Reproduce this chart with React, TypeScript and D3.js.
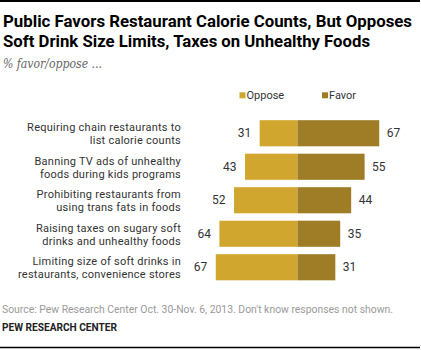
import React from 'react';
import * as d3 from 'd3';

const categories = [
  ['Requiring chain restaurants to', 'list calorie counts'],
  ['Banning TV ads of unhealthy', 'foods during kids programs'],
  ['Prohibiting restaurants from', 'using trans fats in foods'],
  ['Raising taxes on sugary soft', 'drinks and  unhealthy foods'],
  ['Limiting size of soft drinks in', 'restaurants, convenience stores'],
];
const oppose = [31, 43, 52, 64, 67];
const favor = [67, 55, 44, 35, 31];
const legendLabels = ['Oppose', 'Favor'];

const W = 421;
const H = 350;
const OPPOSE_COLOR = '#D1A62F';
const FAVOR_COLOR = '#9E7D26';
const FONT = 'Roboto, "Liberation Sans", Arial, sans-serif';

const App = () => {
  const zeroX = 297.5;
  const x = d3.scaleLinear().domain([0, 100]).range([0, 122]);
  const y = d3.scaleBand<number>()
    .domain(d3.range(categories.length))
    .range([116.5, 284])
    .paddingInner(0.22)
    .paddingOuter(0.11);

  return (
    <svg width={W} height={H} style={{ position: 'absolute', left: 0, top: 0 }}
      fontFamily={FONT}>
      <rect x={0} y={0} width={W} height={H} fill="#fff" />
      <line x1={0} x2={420} y1={1} y2={1} stroke="#000" strokeWidth={2} />

      <text x={3} y={27} fontSize={17} fontWeight="bold" fill="#000" textLength={409} lengthAdjust="spacingAndGlyphs">
        Public Favors Restaurant Calorie Counts, But Opposes
      </text>
      <text x={3} y={47} fontSize={17} fontWeight="bold" fill="#000" textLength={367} lengthAdjust="spacingAndGlyphs">
        Soft Drink Size Limits, Taxes on Unhealthy Foods
      </text>
      <text x={3} y={68} fontSize={12} fontStyle="italic" fill="#666" fontFamily='"DejaVu Serif", Georgia, serif'
        textLength={99} lengthAdjust="spacingAndGlyphs">
        % favor/oppose ...
      </text>

      {legendLabels.map((lab, i) => {
        const lx = i === 0 ? 239.5 : 322;
        return (
          <g key={lab}>
            <rect x={lx} y={92.3} width={6} height={6} fill={i === 0 ? OPPOSE_COLOR : FAVOR_COLOR} />
            <text x={lx + 7} y={98.5} fontSize={11} fill="#333">{lab}</text>
          </g>
        );
      })}

      {categories.map((cat, i) => {
        const top = y(i) as number;
        const bh = y.bandwidth();
        const cy = top + bh / 2;
        return (
          <g key={i}>
            <rect x={zeroX - x(oppose[i])} y={top} width={x(oppose[i])} height={bh} fill={OPPOSE_COLOR} />
            <rect x={zeroX} y={top} width={x(favor[i])} height={bh} fill={FAVOR_COLOR} />
            <text x={181} y={cy - 1.8} fontSize={11} letterSpacing={0.25} textAnchor="end" fill="#333">{cat[0]}</text>
            <text x={181} y={cy + 11} fontSize={11} letterSpacing={0.25} textAnchor="end" fill="#333">{cat[1]}</text>
            <text x={zeroX - x(oppose[i]) - 8.5} y={cy + 4} fontSize={12} textAnchor="end" fill="#333">{oppose[i]}</text>
            <text x={zeroX + x(favor[i]) + 7.5} y={cy + 4} fontSize={12} textAnchor="start" fill="#333">{favor[i]}</text>
          </g>
        );
      })}

      <text x={2} y={313} fontSize={11} fill="#9a9a9a" textLength={391} lengthAdjust="spacingAndGlyphs">
        Source: Pew Research Center Oct. 30-Nov. 6, 2013. Don't know responses not shown.
      </text>
      <text x={2} y={331} fontSize={10.5} fontWeight="bold" fill="#222" textLength={115} lengthAdjust="spacingAndGlyphs">
        PEW RESEARCH CENTER
      </text>
      <line x1={0} x2={420} y1={347.5} y2={347.5} stroke="#000" strokeWidth={1.5} />
    </svg>
  );
};

export default App;
